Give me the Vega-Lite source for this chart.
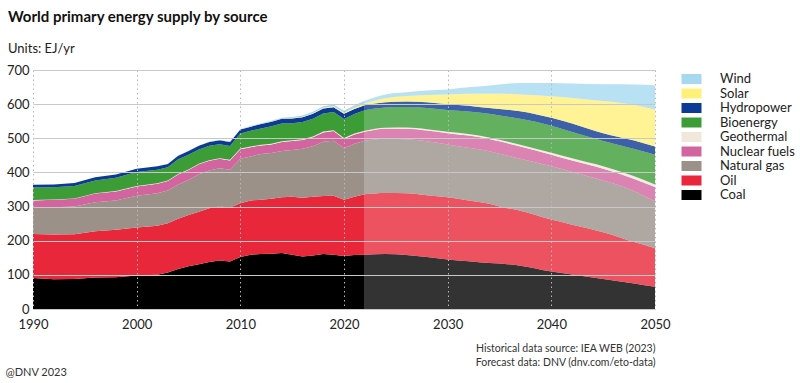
{
  "$schema": "https://vega.github.io/schema/vega-lite/v6.json",
  "width": 622,
  "height": 239,
  "autosize": {"type": "none"},
  "padding": {"left": 33, "top": 70, "right": 145, "bottom": 74},
  "background": "white",
  "config": {"view": {"stroke": null}, "font": "Lato"},
  "title": {
    "text": "World primary energy supply by source",
    "subtitle": "Units:  EJ/yr",
    "anchor": "start",
    "frame": "group",
    "dx": -25,
    "font": "Lato",
    "fontSize": 15,
    "fontWeight": "bold",
    "color": "#111111",
    "subtitleFont": "Lato",
    "subtitleFontSize": 13,
    "subtitleColor": "#222222",
    "subtitlePadding": 18,
    "offset": 8
  },
  "datasets": {
    "meta": [
      {"source": "Coal", "rank": 1},
      {"source": "Oil", "rank": 2},
      {"source": "Natural gas", "rank": 3},
      {"source": "Nuclear fuels", "rank": 4},
      {"source": "Geothermal", "rank": 5},
      {"source": "Bioenergy", "rank": 6},
      {"source": "Hydropower", "rank": 7},
      {"source": "Solar", "rank": 8},
      {"source": "Wind", "rank": 9}
    ]
  },
  "data": {
    "values": [
      {"period": "h", "year": 1990, "Coal": 91, "Oil": 129, "Natural gas": 78, "Nuclear fuels": 20, "Geothermal": 1, "Bioenergy": 37, "Hydropower": 8, "Solar": 0, "Wind": 0},
      {"period": "h", "year": 1992, "Coal": 87, "Oil": 131, "Natural gas": 80, "Nuclear fuels": 22, "Geothermal": 1, "Bioenergy": 35.5, "Hydropower": 8.5, "Solar": 0, "Wind": 0},
      {"period": "h", "year": 1994, "Coal": 88, "Oil": 131, "Natural gas": 81, "Nuclear fuels": 23, "Geothermal": 1, "Bioenergy": 36, "Hydropower": 9, "Solar": 0, "Wind": 0.05},
      {"period": "h", "year": 1996, "Coal": 92, "Oil": 136, "Natural gas": 85, "Nuclear fuels": 25, "Geothermal": 1.2, "Bioenergy": 37.3, "Hydropower": 9.5, "Solar": 0, "Wind": 0.1},
      {"period": "h", "year": 1998, "Coal": 93, "Oil": 139, "Natural gas": 86, "Nuclear fuels": 26, "Geothermal": 1.3, "Bioenergy": 39.2, "Hydropower": 9.5, "Solar": 0, "Wind": 0.1},
      {"period": "h", "year": 2000, "Coal": 98, "Oil": 141, "Natural gas": 93, "Nuclear fuels": 27, "Geothermal": 1.5, "Bioenergy": 40.5, "Hydropower": 10, "Solar": 0, "Wind": 0.1},
      {"period": "h", "year": 2002, "Coal": 100, "Oil": 144, "Natural gas": 95, "Nuclear fuels": 28, "Geothermal": 1.5, "Bioenergy": 39.5, "Hydropower": 10, "Solar": 0, "Wind": 0.2},
      {"period": "h", "year": 2003, "Coal": 107, "Oil": 144, "Natural gas": 96, "Nuclear fuels": 28, "Geothermal": 1.5, "Bioenergy": 38.5, "Hydropower": 10, "Solar": 0, "Wind": 0.2},
      {"period": "h", "year": 2004, "Coal": 117, "Oil": 147, "Natural gas": 101, "Nuclear fuels": 29, "Geothermal": 1.6, "Bioenergy": 42.9, "Hydropower": 10.5, "Solar": 0, "Wind": 0.3},
      {"period": "h", "year": 2005, "Coal": 125, "Oil": 150, "Natural gas": 103, "Nuclear fuels": 29, "Geothermal": 1.6, "Bioenergy": 43.4, "Hydropower": 11, "Solar": 0, "Wind": 0.4},
      {"period": "h", "year": 2006, "Coal": 131, "Oil": 154, "Natural gas": 110, "Nuclear fuels": 29, "Geothermal": 1.7, "Bioenergy": 41.3, "Hydropower": 11, "Solar": 0, "Wind": 0.5},
      {"period": "h", "year": 2007, "Coal": 138, "Oil": 157, "Natural gas": 111, "Nuclear fuels": 28, "Geothermal": 1.7, "Bioenergy": 42.3, "Hydropower": 11, "Solar": 0.1, "Wind": 0.6},
      {"period": "h", "year": 2008, "Coal": 142, "Oil": 158, "Natural gas": 112, "Nuclear fuels": 28, "Geothermal": 1.8, "Bioenergy": 40.7, "Hydropower": 11.5, "Solar": 0.1, "Wind": 0.8},
      {"period": "h", "year": 2009, "Coal": 139, "Oil": 158, "Natural gas": 111, "Nuclear fuels": 27, "Geothermal": 1.8, "Bioenergy": 40.7, "Hydropower": 11.5, "Solar": 0.1, "Wind": 1.0},
      {"period": "h", "year": 2010, "Coal": 152, "Oil": 158, "Natural gas": 130, "Nuclear fuels": 28, "Geothermal": 2, "Bioenergy": 44, "Hydropower": 12, "Solar": 0.2, "Wind": 1.2},
      {"period": "h", "year": 2011, "Coal": 159, "Oil": 159, "Natural gas": 129, "Nuclear fuels": 27, "Geothermal": 2, "Bioenergy": 46, "Hydropower": 12, "Solar": 0.3, "Wind": 1.5},
      {"period": "h", "year": 2012, "Coal": 161, "Oil": 159, "Natural gas": 134, "Nuclear fuels": 25, "Geothermal": 2, "Bioenergy": 48, "Hydropower": 13, "Solar": 0.4, "Wind": 1.9},
      {"period": "h", "year": 2013, "Coal": 162, "Oil": 161, "Natural gas": 134, "Nuclear fuels": 25, "Geothermal": 2.1, "Bioenergy": 51, "Hydropower": 13.5, "Solar": 0.5, "Wind": 2.3},
      {"period": "h", "year": 2014, "Coal": 164, "Oil": 163, "Natural gas": 136, "Nuclear fuels": 26, "Geothermal": 2.2, "Bioenergy": 52, "Hydropower": 14, "Solar": 0.7, "Wind": 2.5},
      {"period": "h", "year": 2015, "Coal": 159, "Oil": 170, "Natural gas": 137, "Nuclear fuels": 26, "Geothermal": 2.3, "Bioenergy": 50, "Hydropower": 14, "Solar": 0.9, "Wind": 3.0},
      {"period": "h", "year": 2016, "Coal": 154, "Oil": 172, "Natural gas": 143, "Nuclear fuels": 26, "Geothermal": 2.4, "Bioenergy": 50, "Hydropower": 14.5, "Solar": 1.2, "Wind": 3.4},
      {"period": "h", "year": 2017, "Coal": 157, "Oil": 172, "Natural gas": 148, "Nuclear fuels": 26, "Geothermal": 2.5, "Bioenergy": 52, "Hydropower": 14.5, "Solar": 1.6, "Wind": 4.0},
      {"period": "h", "year": 2018, "Coal": 161, "Oil": 170, "Natural gas": 159, "Nuclear fuels": 27, "Geothermal": 2.6, "Bioenergy": 53, "Hydropower": 14.5, "Solar": 2.0, "Wind": 4.6},
      {"period": "h", "year": 2019, "Coal": 159, "Oil": 173, "Natural gas": 161, "Nuclear fuels": 28, "Geothermal": 2.7, "Bioenergy": 53, "Hydropower": 14.5, "Solar": 2.5, "Wind": 5.1},
      {"period": "h", "year": 2020, "Coal": 155, "Oil": 165, "Natural gas": 151, "Nuclear fuels": 27, "Geothermal": 2.8, "Bioenergy": 56, "Hydropower": 15, "Solar": 3.0, "Wind": 5.7},
      {"period": "h", "year": 2021, "Coal": 158, "Oil": 171, "Natural gas": 155, "Nuclear fuels": 27, "Geothermal": 2.9, "Bioenergy": 57, "Hydropower": 15, "Solar": 3.8, "Wind": 6.6},
      {"period": "h", "year": 2022, "Coal": 159, "Oil": 177, "Natural gas": 157, "Nuclear fuels": 26, "Geothermal": 3, "Bioenergy": 60, "Hydropower": 15, "Solar": 5, "Wind": 8},
      {"period": "f", "year": 2022, "Coal": 159, "Oil": 177, "Natural gas": 157, "Nuclear fuels": 26, "Geothermal": 3, "Bioenergy": 60, "Hydropower": 15, "Solar": 5, "Wind": 8},
      {"period": "f", "year": 2024, "Coal": 161, "Oil": 179, "Natural gas": 159, "Nuclear fuels": 29, "Geothermal": 3.2, "Bioenergy": 59, "Hydropower": 15, "Solar": 12, "Wind": 11},
      {"period": "f", "year": 2026, "Coal": 158, "Oil": 181, "Natural gas": 158, "Nuclear fuels": 31, "Geothermal": 3.5, "Bioenergy": 60, "Hydropower": 16, "Solar": 16, "Wind": 11},
      {"period": "f", "year": 2028, "Coal": 152, "Oil": 181, "Natural gas": 158, "Nuclear fuels": 32, "Geothermal": 3.8, "Bioenergy": 62, "Hydropower": 17, "Solar": 21, "Wind": 13},
      {"period": "f", "year": 2030, "Coal": 145, "Oil": 182, "Natural gas": 155, "Nuclear fuels": 33, "Geothermal": 4, "Bioenergy": 64, "Hydropower": 17, "Solar": 28, "Wind": 15},
      {"period": "f", "year": 2032, "Coal": 140, "Oil": 178, "Natural gas": 154, "Nuclear fuels": 36, "Geothermal": 4.3, "Bioenergy": 66, "Hydropower": 17, "Solar": 35, "Wind": 19},
      {"period": "f", "year": 2034, "Coal": 135, "Oil": 173, "Natural gas": 154, "Nuclear fuels": 36, "Geothermal": 4.6, "Bioenergy": 69, "Hydropower": 17, "Solar": 42, "Wind": 24},
      {"period": "f", "year": 2035, "Coal": 133, "Oil": 167, "Natural gas": 155, "Nuclear fuels": 36, "Geothermal": 4.8, "Bioenergy": 71, "Hydropower": 19, "Solar": 45, "Wind": 27},
      {"period": "f", "year": 2037, "Coal": 127, "Oil": 161, "Natural gas": 152, "Nuclear fuels": 36, "Geothermal": 5.2, "Bioenergy": 76, "Hydropower": 22, "Solar": 49, "Wind": 34},
      {"period": "f", "year": 2040, "Coal": 110, "Oil": 152, "Natural gas": 156, "Nuclear fuels": 34, "Geothermal": 6, "Bioenergy": 79, "Hydropower": 23, "Solar": 63, "Wind": 39},
      {"period": "f", "year": 2042, "Coal": 101, "Oil": 146, "Natural gas": 154, "Nuclear fuels": 34, "Geothermal": 6.3, "Bioenergy": 77, "Hydropower": 25, "Solar": 75, "Wind": 42},
      {"period": "f", "year": 2045, "Coal": 88, "Oil": 137, "Natural gas": 151, "Nuclear fuels": 35, "Geothermal": 7, "Bioenergy": 74, "Hydropower": 23, "Solar": 94, "Wind": 49},
      {"period": "f", "year": 2048, "Coal": 75, "Oil": 121, "Natural gas": 149, "Nuclear fuels": 36, "Geothermal": 7.5, "Bioenergy": 80, "Hydropower": 25, "Solar": 104, "Wind": 60},
      {"period": "f", "year": 2050, "Coal": 65, "Oil": 113, "Natural gas": 137, "Nuclear fuels": 42, "Geothermal": 8, "Bioenergy": 87, "Hydropower": 24, "Solar": 108, "Wind": 71}
    ]
  },
  "transform": [
    {"fold": ["Coal", "Oil", "Natural gas", "Nuclear fuels", "Geothermal", "Bioenergy", "Hydropower", "Solar", "Wind"], "as": ["source", "value"]},
    {"lookup": "source", "from": {"data": {"name": "meta"}, "key": "source", "fields": ["rank"]}}
  ],
  "encoding": {
    "x": {
      "field": "year",
      "type": "quantitative",
      "scale": {"domain": [1990, 2050], "nice": false, "zero": false},
      "axis": {
        "values": [1990, 2000, 2010, 2020, 2030, 2040, 2050],
        "format": "d",
        "labelFlush": false,
        "grid": true,
        "gridDash": [1.5, 3],
        "gridColor": "#b8b8b8",
        "gridWidth": 1,
        "domain": false,
        "ticks": false,
        "labelFont": "Lato",
        "labelFontSize": 13,
        "labelColor": "#222222",
        "labelPadding": 9,
        "zindex": 1,
        "title": ["Historical data source: IEA WEB (2023)", "Forecast data: DNV (dnv.com/eto-data)"],
        "titleAnchor": "end",
        "titleAlign": "right",
        "titleFont": "Lato",
        "titleFontSize": 10.5,
        "titleFontWeight": "normal",
        "titleColor": "#333333",
        "titleLineHeight": 14,
        "titlePadding": 12
      }
    },
    "y": {
      "field": "value",
      "type": "quantitative",
      "stack": "zero",
      "scale": {"domain": [0, 700], "nice": false},
      "axis": {
        "values": [0, 100, 200, 300, 400, 500, 600, 700],
        "grid": true,
        "gridColor": "#c8c8c8",
        "gridWidth": 1,
        "domain": false,
        "ticks": false,
        "labelFont": "Lato",
        "labelFontSize": 13,
        "labelColor": "#222222",
        "labelPadding": 4,
        "zindex": 1,
        "title": "@DNV 2023",
        "titleAngle": 0,
        "titleX": -28,
        "titleY": 302,
        "titleAlign": "left",
        "titleBaseline": "middle",
        "titleFont": "Lato",
        "titleFontSize": 11,
        "titleFontWeight": "normal",
        "titleColor": "#333333"
      }
    },
    "color": {
      "field": "source",
      "type": "nominal",
      "scale": {
        "domain": ["Wind", "Solar", "Hydropower", "Bioenergy", "Geothermal", "Nuclear fuels", "Natural gas", "Oil", "Coal"],
        "range": ["#a6d9f0", "#fff07a", "#0d3a94", "#3c9c36", "#f1e8dc", "#d2649f", "#9b9189", "#e8273a", "#000000"]
      },
      "legend": {
        "orient": "none",
        "legendX": 652,
        "legendY": 2.5,
        "padding": 0,
        "title": null,
        "symbolType": "M-2,-1H2V1H-2Z",
        "symbolSize": 100,
        "symbolStrokeWidth": 0,
        "symbolOpacity": 1,
        "labelFont": "Lato",
        "labelFontSize": 13,
        "labelColor": "#222222",
        "labelOffset": 22,
        "rowPadding": 0.5
      }
    },
    "order": {"field": "rank", "type": "quantitative"}
  },
  "layer": [
    {
      "transform": [{"filter": "datum.period == 'h'"}],
      "mark": {"type": "area", "interpolate": "linear"}
    },
    {
      "transform": [{"filter": "datum.period == 'f'"}],
      "mark": {"type": "area", "interpolate": "monotone", "opacity": 0.8}
    }
  ]
}
